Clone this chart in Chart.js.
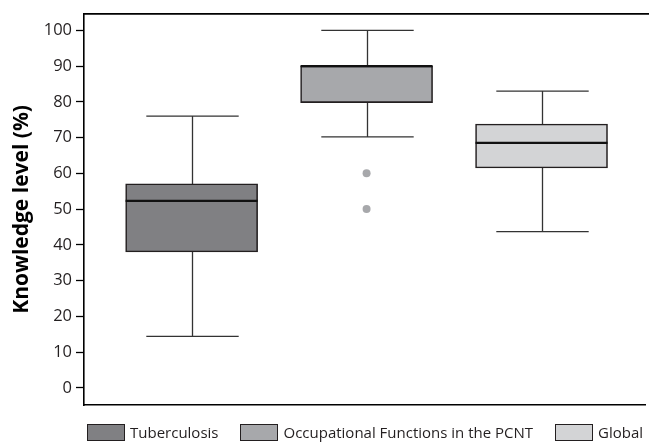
<!DOCTYPE html>
<html>
<head>
<meta charset="utf-8">
<script src="https://cdn.jsdelivr.net/npm/chart.js@4/dist/chart.umd.min.js"></script>
<style>
  html, body { margin: 0; padding: 0; background: #fff; overflow: hidden; }
  #wrap { position: relative; width: 649px; height: 444px; }
  #c { display: block; }
  #legend { position: absolute; left: 87px; top: 424px; height: 17px; display: flex; gap: 22px;
            font-family: "Open Sans", sans-serif; font-size: 15px; color: #231f20; }
  .li { display: flex; align-items: center; white-space: nowrap; }
  .li .sw { width: 36px; height: 15px; border: 1.2px solid #231f20; margin-right: 5px; }
  .li span { line-height: 17px; }
</style>
</head>
<body>
<div id="wrap">
  <canvas id="c" width="649" height="444"></canvas>
  <div id="legend"></div>
</div>
<script>
// ---- data ----
const categories = ['Tuberculosis', 'Occupational Functions in the PCNT', 'Global'];
const whiskerMin = [14.4, 70.2, 43.7];
const q1 = [38.0, 79.8, 61.5];
const median = [52.3, 90.0, 68.5];
const q3 = [57.1, 90.0, 73.8];
const whiskerMax = [76.0, 100.0, 83.0];
const outliers = [[], [60, 50], []];
const yTicks = [0, 10, 20, 30, 40, 50, 60, 70, 80, 90, 100];
const yTitle = 'Knowledge level (%)';

// ---- styles ----
const boxColors = ['#808083', '#a7a8ab', '#d3d4d6'];
const outlierColor = '#a7a8ab';
const ink = '#231f20';

const boxDatasets = categories.map((name, i) => ({
  type: 'bar',
  label: name,
  data: [{ x: i + 1, y: [q1[i], q3[i]] }],
  backgroundColor: boxColors[i],
  borderColor: ink,
  borderWidth: 1.6,
  borderSkipped: false,
  barThickness: 132,
  grouped: false
}));

const outlierData = [];
outliers.forEach((arr, i) => arr.forEach(v => outlierData.push({ x: i + 1, y: v })));

const outlierDataset = {
  type: 'scatter',
  label: 'outliers',
  data: outlierData,
  pointRadius: 4,
  pointBackgroundColor: outlierColor,
  pointBorderWidth: 0,
  pointHoverRadius: 4
};

const whiskerPlugin = {
  id: 'whiskers',
  beforeDatasetsDraw(chart) {
    const { ctx, scales: { y } } = chart;
    ctx.save();
    ctx.strokeStyle = '#333333';
    ctx.lineWidth = 1.3;
    categories.forEach((_, i) => {
      const bar = chart.getDatasetMeta(i).data[0];
      if (!bar) return;
      const cx = Math.round(bar.x) + 0.5;
      const half = bar.width * 0.35;
      const yLo = y.getPixelForValue(whiskerMin[i]);
      const yHi = y.getPixelForValue(whiskerMax[i]);
      ctx.beginPath();
      ctx.moveTo(cx, yHi); ctx.lineTo(cx, yLo);
      ctx.moveTo(cx - half, yHi); ctx.lineTo(cx + half, yHi);
      ctx.moveTo(cx - half, yLo); ctx.lineTo(cx + half, yLo);
      ctx.stroke();
    });
    ctx.restore();
  },
  afterDatasetsDraw(chart) {
    const { ctx, scales: { y } } = chart;
    ctx.save();
    ctx.strokeStyle = '#111111';
    ctx.lineWidth = 2.2;
    categories.forEach((_, i) => {
      const bar = chart.getDatasetMeta(i).data[0];
      if (!bar) return;
      const ym = y.getPixelForValue(median[i]);
      ctx.beginPath();
      ctx.moveTo(bar.x - bar.width / 2, ym);
      ctx.lineTo(bar.x + bar.width / 2, ym);
      ctx.stroke();
    });
    ctx.restore();
  },
  afterDraw(chart) {
    const { ctx, chartArea } = chart;
    ctx.save();
    ctx.strokeStyle = '#000';
    ctx.lineWidth = 1.6;
    ctx.beginPath();
    ctx.moveTo(chartArea.left, chartArea.top);
    ctx.lineTo(chart.width, chartArea.top);
    ctx.stroke();
    ctx.restore();
  }
};

const chart = new Chart(document.getElementById('c'), {
  type: 'bar',
  data: { datasets: [...boxDatasets, outlierDataset] },
  plugins: [whiskerPlugin],
  options: {
    responsive: false,
    animation: false,
    layout: { padding: { top: 12, bottom: 39, left: 0, right: 0 } },
    plugins: {
      legend: { display: false },
      tooltip: { enabled: false }
    },
    scales: {
      x: {
        type: 'linear',
        offset: false,
        min: 0.3848,
        max: 3.5914,
        ticks: { display: false },
        grid: { display: false },
        border: { display: true, color: '#000', width: 1.6 },
        afterFit(scale) { scale.height = 0; }
      },
      y: {
        min: -4.8,
        max: 104.6,
        afterBuildTicks(scale) { scale.ticks = yTicks.map(v => ({ value: v })); },
        afterFit(scale) { scale.width = 84; },
        ticks: {
          color: ink,
          padding: 4,
          font: { family: 'Open Sans', size: 16.5 }
        },
        grid: { drawOnChartArea: false, drawTicks: true, tickLength: 8, tickWidth: 1.3, tickColor: '#000' },
        border: { display: true, color: '#000', width: 1.6 },
        title: {
          display: true,
          text: yTitle,
          color: '#000',
          padding: { top: 9, bottom: 0 },
          font: { family: 'Open Sans', size: 21, weight: 'bold' }
        }
      }
    }
  }
});

// HTML legend built from the chart's datasets
const legendEl = document.getElementById('legend');
chart.data.datasets.slice(0, categories.length).forEach((ds) => {
  const item = document.createElement('div');
  item.className = 'li';
  const sw = document.createElement('div');
  sw.className = 'sw';
  sw.style.background = ds.backgroundColor;
  const t = document.createElement('span');
  t.textContent = ds.label;
  item.appendChild(sw); item.appendChild(t);
  legendEl.appendChild(item);
});
</script>
</body>
</html>
